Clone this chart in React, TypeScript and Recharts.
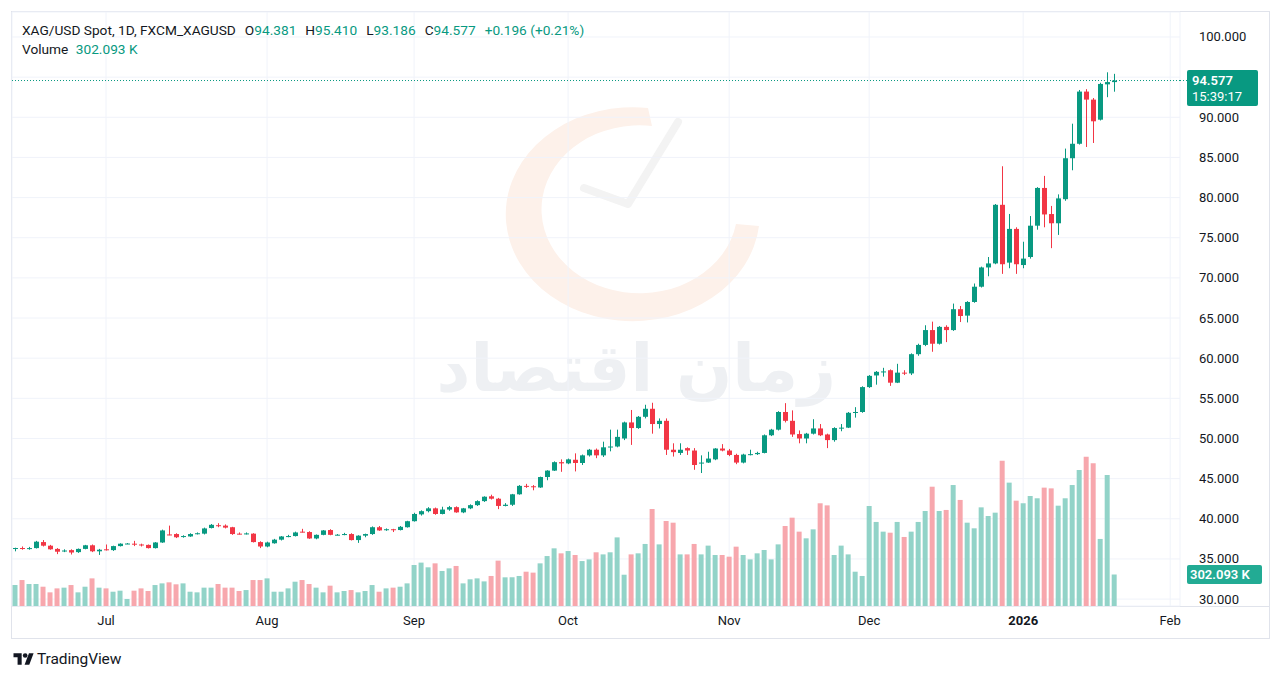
import React from 'react';
import { ComposedChart, Bar, Cell, XAxis, YAxis, CartesianGrid, ReferenceLine } from 'recharts';

const UP = '#089981';
const DOWN = '#f23645';
const UP_VOL = '#92d3c8';
const DOWN_VOL = '#f7a7ad';
const TEXT = '#131722';
const FONT = "Roboto, 'Liberation Sans', sans-serif";

// daily bars, mid-June 2025 .. Jan 2026
const opens = [
  36.33, 36.36, 36.30, 36.35, 37.10, 36.65, 36.25, 35.95, 36.10, 35.85,
  36.25, 36.70, 35.95, 36.20, 36.10, 36.60, 36.90, 36.90, 36.80, 36.75,
  36.35, 37.05, 38.05, 38.10, 37.75, 37.80, 38.10, 38.15, 38.85, 39.20,
  39.15, 38.95, 38.15, 38.12, 38.15, 37.10, 36.55, 36.95, 37.40, 37.80,
  37.85, 38.40, 38.35, 37.55, 38.00, 38.60, 38.00, 38.05, 38.10, 37.35,
  37.90, 38.10, 38.95, 38.60, 38.70, 38.60, 38.95, 39.70, 40.55, 40.95,
  41.30, 40.60, 41.15, 41.45, 40.80, 41.30, 41.70, 42.20, 42.80, 42.50,
  41.60, 41.75, 43.05, 44.10, 44.05, 43.90, 45.20, 46.00, 47.05, 46.90,
  47.35, 46.95, 47.90, 48.60, 47.90, 48.90, 49.00, 50.00, 52.00, 51.30,
  52.70, 53.70, 51.80, 52.20, 48.60, 48.20, 48.80, 48.50, 46.90, 47.00,
  47.40, 48.75, 48.50, 47.95, 47.00, 48.00, 48.05, 48.20, 50.40, 51.10,
  53.30, 52.20, 50.55, 50.00, 50.60, 51.25, 50.50, 49.80, 51.30, 51.35,
  53.20, 53.30, 56.40, 57.85, 58.30, 58.50, 56.95, 58.20, 58.10, 60.50,
  61.65, 63.50, 61.80, 63.90, 63.50, 66.10, 65.30, 67.00, 68.90, 71.30,
  71.80, 79.10, 71.90, 76.10, 71.60, 72.60, 76.50, 81.20, 77.95, 76.80,
  79.80, 84.90, 86.70, 93.20, 92.20, 89.70, 94.10, 94.381,
];
const highs = [
  36.40, 36.55, 36.50, 37.25, 37.35, 36.75, 36.35, 36.20, 36.20, 36.30,
  36.75, 36.80, 36.25, 36.80, 36.65, 36.95, 36.98, 37.25, 36.90, 36.80,
  37.10, 38.65, 39.15, 38.20, 37.95, 38.20, 38.30, 38.90, 39.35, 39.45,
  39.30, 39.00, 38.30, 38.30, 38.20, 37.20, 37.15, 37.50, 37.85, 38.00,
  38.40, 38.75, 38.45, 38.05, 38.60, 38.70, 38.10, 38.25, 38.20, 37.95,
  38.15, 39.05, 39.10, 38.80, 38.75, 39.10, 39.75, 40.75, 41.05, 41.45,
  41.40, 41.50, 41.60, 41.55, 41.35, 41.80, 42.30, 42.80, 43.00, 42.60,
  41.95, 43.10, 44.20, 44.35, 44.20, 45.25, 46.05, 47.15, 47.40, 47.50,
  48.15, 48.00, 48.70, 48.75, 49.60, 51.10, 51.10, 52.10, 53.55, 52.80,
  54.20, 54.45, 52.50, 52.50, 49.40, 49.40, 48.90, 48.80, 47.90, 48.35,
  48.80, 49.30, 48.70, 48.10, 48.10, 48.60, 48.35, 50.50, 51.20, 53.40,
  54.40, 53.50, 51.00, 50.70, 52.40, 51.80, 50.60, 51.40, 51.80, 53.30,
  53.90, 56.50, 57.90, 58.40, 58.80, 58.60, 59.30, 58.50, 60.60, 61.80,
  64.10, 64.55, 64.00, 64.10, 66.80, 66.50, 67.10, 69.30, 71.40, 72.60,
  79.20, 83.90, 77.96, 76.30, 74.50, 77.70, 81.30, 82.70, 78.96, 80.40,
  86.10, 89.20, 93.40, 93.50, 92.40, 94.30, 95.60, 95.41,
];
const lows = [
  35.95, 36.15, 36.15, 36.30, 36.55, 36.15, 35.60, 35.85, 35.55, 35.75,
  36.20, 35.85, 35.50, 36.05, 36.00, 36.55, 36.85, 36.60, 36.55, 36.30,
  36.30, 37.00, 37.95, 37.60, 37.65, 37.75, 38.05, 38.05, 38.80, 38.95,
  38.80, 38.00, 38.05, 38.05, 37.05, 36.35, 36.45, 36.90, 37.30, 37.70,
  37.80, 38.30, 37.50, 37.45, 37.95, 37.95, 37.95, 37.95, 37.30, 37.00,
  37.70, 38.00, 38.50, 38.50, 38.35, 38.55, 38.90, 39.65, 40.40, 40.80,
  40.50, 40.55, 41.00, 40.75, 40.70, 41.20, 41.60, 42.10, 42.40, 41.20,
  41.55, 41.60, 43.00, 43.85, 43.55, 43.85, 44.80, 45.95, 45.85, 46.80,
  45.90, 46.70, 47.75, 47.55, 47.70, 48.40, 48.90, 49.80, 49.20, 51.20,
  52.50, 50.60, 51.25, 47.95, 47.75, 47.95, 47.95, 46.10, 45.70, 46.95,
  47.30, 48.40, 47.80, 46.80, 46.90, 47.90, 47.95, 48.15, 50.30, 51.00,
  52.00, 50.20, 49.40, 49.40, 50.50, 50.30, 48.80, 49.60, 50.90, 51.30,
  52.60, 53.20, 56.30, 56.70, 57.70, 56.55, 56.90, 57.90, 57.90, 60.30,
  61.50, 60.80, 61.70, 62.00, 63.40, 64.50, 64.45, 66.90, 68.80, 70.20,
  71.70, 70.50, 71.20, 70.50, 71.20, 72.40, 76.00, 76.30, 73.70, 75.35,
  79.60, 83.40, 86.60, 86.30, 86.80, 89.60, 92.50, 93.186,
];
const closes = [
  36.36, 36.30, 36.35, 37.15, 36.65, 36.20, 35.90, 36.05, 35.80, 36.25,
  36.70, 35.95, 36.15, 36.15, 36.60, 36.90, 36.92, 36.80, 36.75, 36.35,
  37.05, 38.55, 38.00, 37.70, 37.85, 38.10, 38.20, 38.80, 39.25, 39.15,
  38.90, 38.10, 38.12, 38.18, 37.10, 36.55, 37.05, 37.40, 37.80, 37.85,
  38.30, 38.35, 37.55, 38.00, 38.55, 38.00, 38.02, 38.10, 37.35, 37.90,
  38.10, 38.95, 38.55, 38.70, 38.65, 39.00, 39.70, 40.60, 40.95, 41.30,
  40.60, 41.15, 41.45, 40.80, 41.30, 41.70, 42.20, 42.75, 42.50, 41.60,
  41.75, 43.05, 44.10, 44.05, 43.95, 45.20, 46.00, 47.05, 46.90, 47.40,
  46.95, 47.90, 48.60, 47.90, 48.90, 49.00, 50.20, 52.00, 51.30, 52.70,
  53.70, 51.80, 52.20, 48.60, 48.30, 48.60, 48.50, 46.70, 47.00, 47.50,
  48.75, 48.50, 47.95, 47.00, 48.00, 48.05, 48.20, 50.40, 51.10, 53.30,
  52.20, 50.50, 50.00, 50.60, 51.25, 50.40, 49.80, 51.30, 51.35, 53.20,
  53.30, 56.40, 57.80, 58.30, 58.35, 56.95, 58.20, 58.15, 60.50, 61.65,
  63.50, 61.80, 63.90, 63.50, 66.10, 65.25, 67.00, 68.90, 71.30, 71.80,
  79.10, 71.70, 76.10, 71.70, 72.40, 76.50, 81.20, 77.90, 76.80, 79.90,
  84.90, 86.70, 93.20, 92.20, 89.50, 94.15, 94.381, 94.577,
];
// volume, thousands
const volumes = [
  201, 249, 211, 211, 185, 131, 169, 176, 201, 131,
  185, 265, 176, 169, 137, 147, 67, 147, 169, 144,
  201, 217, 227, 208, 217, 137, 131, 176, 176, 211,
  176, 176, 144, 153, 249, 249, 265, 137, 137, 169,
  233, 249, 211, 176, 131, 195, 131, 144, 153, 131,
  144, 201, 137, 169, 176, 185, 217, 393, 416, 371,
  409, 336, 361, 384, 217, 256, 265, 236, 288, 435,
  275, 275, 288, 329, 320, 409, 479, 553, 505, 527,
  489, 431, 447, 515, 495, 515, 658, 300, 495, 505,
  595, 930, 591, 815, 799, 495, 495, 595, 495, 579,
  489, 489, 473, 569, 489, 447, 505, 537, 447, 591,
  767, 847, 713, 649, 735, 985, 965, 489, 579, 495,
  329, 288, 959, 806, 713, 703, 806, 662, 713, 806,
  911, 1144, 911, 921, 1160, 1017, 799, 745, 946, 863,
  895, 1394, 1183, 1010, 985, 1055, 1033, 1135, 1128, 962,
  1033, 1160, 1304, 1432, 1368, 643, 1256, 302.093,
];

const priceTicks = [30, 35, 40, 45, 50, 55, 60, 65, 70, 75, 80, 85, 90, 95, 100];
const monthTicks = [13, 36, 57, 79, 102, 122, 144, 165];
const monthLabels = ['Jul', 'Aug', 'Sep', 'Oct', 'Nov', 'Dec', '2026', 'Feb'];
const lastTime = '15:39:17';

const rows = opens.map((o, i) => ({
  i,
  open: o,
  high: highs[i],
  low: lows[i],
  close: closes[i],
  range: [lows[i], highs[i]],
  vol: volumes[i],
}));

const last = rows[rows.length - 1];
const prev = rows[rows.length - 2];
const change = last.close - prev.close;
const changePct = (change / prev.close) * 100;

const X_DOMAIN: [number, number] = [-0.43, 166.4];

function Candle(props: any) {
  const { x, y, width, height, payload } = props;
  const { open, close, high, low } = payload;
  const color = close >= open ? UP : DOWN;
  const top = Math.min(y, y + height);
  const h = Math.abs(height);
  const k = high === low ? 0 : h / (high - low);
  const yO = top + (high - open) * k;
  const yC = top + (high - close) * k;
  const bx = Math.round(x);
  const cx = bx + Math.floor(width / 2) + 0.5;
  const bodyTop = Math.min(yO, yC);
  const bodyH = Math.max(1, Math.abs(yC - yO));
  return (
    <g>
      <line x1={cx} x2={cx} y1={top} y2={top + h} stroke={color} strokeWidth={1} />
      <rect x={bx} y={bodyTop} width={width} height={bodyH} fill={color} />
    </g>
  );
}

function PriceTick(props: any) {
  const { x, y, payload } = props;
  // the last-price badge covers the label next to it
  if (Math.abs(payload.value - last.close) < 2.5) return <g />;
  return (
    <text x={x} y={y} dy={4.5} textAnchor="start" fontSize={13} fill={TEXT} fontFamily={FONT}>
      {payload.value.toFixed(3)}
    </text>
  );
}

function MonthTick(props: any) {
  const { x, y, payload } = props;
  const label = monthLabels[monthTicks.indexOf(payload.value)];
  return (
    <text x={x} y={y} dy={10} textAnchor="middle" fontSize={13} fill={TEXT} fontFamily={FONT}
      fontWeight={label === '2026' ? 700 : 400}>
      {label}
    </text>
  );
}

function PriceBadge(props: any) {
  const vb = props.viewBox || {};
  const right = vb.x + vb.width;
  const ly = vb.y;
  return (
    <g>
      <line x1={right} x2={right + 7} y1={ly} y2={ly} stroke={UP} strokeDasharray="1 2" />
      <rect x={right + 7} y={ly - 10.5} width={71} height={36} rx={2} fill={UP} />
      <text x={right + 12} y={ly + 4} fontSize={13} fontWeight={600} fill="#fff" fontFamily={FONT}>
        {last.close.toFixed(3)}
      </text>
      <text x={right + 12} y={ly + 20} fontSize={13} fill="#fff" fontFamily={FONT}>
        {lastTime}
      </text>
    </g>
  );
}

function VolumeBadge(props: any) {
  const vb = props.viewBox || {};
  const right = vb.x + vb.width;
  const ly = vb.y;
  return (
    <g>
      <rect x={right + 7} y={ly - 9.5} width={75} height={19} rx={2} fill="#22ab94" />
      <text x={right + 10} y={ly + 5} fontSize={13} fontWeight={600} fill="#fff" fontFamily={FONT}>
        {last.vol.toFixed(3)} K
      </text>
    </g>
  );
}

function Watermark() {
  return (
    <>
      <svg width={1280} height={679} style={{ position: 'absolute', left: 0, top: 0 }}>
        <path
          d="M 648 108 A 127 107 0 1 0 759 226 L 736 224 A 98 84 0 1 1 652 126 Z"
          fill="#fdf1ea"
        />
        <polyline points="584,188 628,204 678,122" fill="none" stroke="#f3f3f3" strokeWidth={8}
          strokeLinejoin="round" strokeLinecap="round" />
      </svg>
      <div style={{
        position: 'absolute', left: 440, top: 336, width: 396, textAlign: 'center', fontSize: 66,
        fontWeight: 700, color: '#eef0f3', fontFamily: "'DejaVu Sans', sans-serif", direction: 'rtl',
        whiteSpace: 'nowrap', lineHeight: 1,
      }}>
        زمان اقتصاد
      </div>
    </>
  );
}

function Legend() {
  const val = { color: UP };
  const gap = { marginLeft: 9 };
  const sign = change >= 0 ? '+' : '';
  return (
    <div style={{ position: 'absolute', left: 22, top: 21, fontSize: 13.7, lineHeight: '19px', color: TEXT, fontFamily: FONT, whiteSpace: 'nowrap' }}>
      <div>
        XAG/USD Spot, 1D, FXCM_XAGUSD
        <span style={gap}>O<span style={val}>{last.open.toFixed(3)}</span></span>
        <span style={gap}>H<span style={val}>{last.high.toFixed(3)}</span></span>
        <span style={gap}>L<span style={val}>{last.low.toFixed(3)}</span></span>
        <span style={gap}>C<span style={val}>{last.close.toFixed(3)}</span></span>
        <span style={{ ...gap, ...val }}>{sign}{change.toFixed(3)} ({sign}{changePct.toFixed(2)}%)</span>
      </div>
      <div>
        Volume <span style={{ ...val, marginLeft: 4 }}>{last.vol.toFixed(3)} K</span>
      </div>
    </div>
  );
}

function Footer() {
  return (
    <div style={{ position: 'absolute', left: 13, top: 650, display: 'flex', alignItems: 'center', fontFamily: FONT, color: TEXT }}>
      <svg width={22} height={14} viewBox="0 0 36 24">
        <path d="M14 22H7V9H0V2h14z" fill={TEXT} />
        <circle cx={20} cy={6} r={4} fill={TEXT} />
        <path d="M27 22h-8l7.5-20h8z" fill={TEXT} />
      </svg>
      <span style={{ fontSize: 15.5, marginLeft: 2, letterSpacing: -0.1 }}>TradingView</span>
    </div>
  );
}

export default function App() {
  return (
    <div style={{ position: 'absolute', left: 0, top: 0, width: 1280, height: 679, background: '#fff', overflow: 'hidden' }}>
      <Watermark />
      <div style={{ position: 'absolute', left: 11, top: 11, width: 1257, height: 626, border: '1px solid #e0e3eb' }} />
      <div style={{ position: 'absolute', left: 11, top: 606, width: 1259, height: 1, background: '#e0e3eb' }} />
      <div style={{ position: 'absolute', left: 0, top: 0 }}>
        <ComposedChart width={1280} height={679} data={rows} margin={{ top: 12, right: 0, bottom: 0, left: 12 }}>
          <CartesianGrid stroke="#f0f3fa" />
          <XAxis dataKey="i" type="number" domain={X_DOMAIN} ticks={monthTicks} height={73}
            axisLine={false} tickLine={false} tickSize={0} tickMargin={9} tick={<MonthTick />} allowDataOverflow />
          <XAxis xAxisId="vol" dataKey="i" type="number" domain={X_DOMAIN} hide allowDataOverflow />
          <YAxis orientation="right" width={100} domain={[29.14, 103.11]} ticks={priceTicks}
            axisLine={false} tickLine={false} tickSize={0} tickMargin={19} tick={<PriceTick />} allowDataOverflow />
          <YAxis yAxisId="vol" domain={[0, 5696]} hide allowDataOverflow />
          <Bar xAxisId="vol" yAxisId="vol" dataKey="vol" barSize={5} isAnimationActive={false}>
            {rows.map((r) => (
              <Cell key={r.i} fill={r.close >= r.open ? UP_VOL : DOWN_VOL} />
            ))}
          </Bar>
          <Bar dataKey="range" barSize={5} shape={<Candle />} isAnimationActive={false} />
          <ReferenceLine y={last.close} stroke={UP} strokeDasharray="1 2" label={(p: any) => <PriceBadge {...p} />} />
          <ReferenceLine xAxisId="vol" yAxisId="vol" y={last.vol} stroke="none" label={(p: any) => <VolumeBadge {...p} />} />
        </ComposedChart>
      </div>
      <Legend />
      <Footer />
    </div>
  );
}
